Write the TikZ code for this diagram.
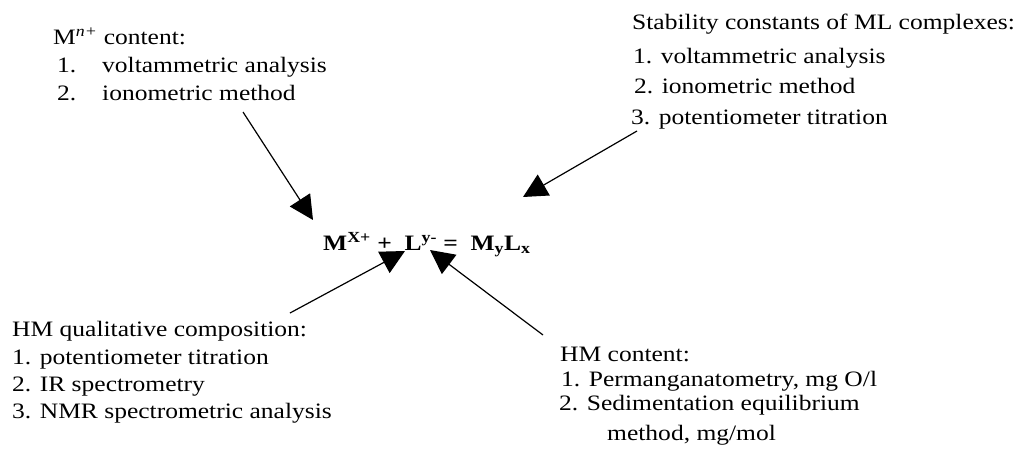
\documentclass[tikz,border=0pt]{standalone}
\usepackage{fontspec}
\setmainfont[FakeStretch=1.16]{Liberation Serif}
\usetikzlibrary{arrows.meta,positioning}

\begin{document}
\begin{tikzpicture}[x=1pt, y=-1pt,
    txt/.style={anchor=base west, inner sep=0pt, font=\fontsize{22}{26}\selectfont},
    arr/.style={line width=1.2pt, -{Triangle[length=24pt,width=24pt]}}]
    \useasboundingbox (0,0) rectangle (1019,448);

    % reaction
    \node[txt] (eq) at (323,250) {\bfseries M\textsuperscript{X+} + \ L\textsuperscript{y-} = \ M\textsubscript{y}L\textsubscript{x}};

    % metal content
    \node[txt] (tl0) at (53,44) {M\textsuperscript{\itshape n+} content:};
    \node[txt] (tl1) at (57,72) {\makebox[45pt][l]{1.}voltammetric analysis};
    \node[txt] (tl2) at (57,100) {\makebox[45pt][l]{2.}ionometric method};

    % stability constants
    \node[txt] (tr0) at (632,29) {Stability constants of ML complexes:};
    \node[txt] (tr1) at (633,63) {1. voltammetric analysis};
    \node[txt] (tr2) at (634,93) {2. ionometric method};
    \node[txt] (tr3) at (631,124) {3. potentiometer titration};

    % HM composition
    \node[txt] (bl0) at (12,336) {HM qualitative composition:};
    \node[txt] (bl1) at (12,364) {1. potentiometer titration};
    \node[txt] (bl2) at (12,391) {2. IR spectrometry};
    \node[txt] (bl3) at (12,418) {3. NMR spectrometric analysis};

    % HM content
    \node[txt] (br0) at (560,361) {HM content:};
    \node[txt] (br1) at (561,386) {1. Permanganatometry, mg O/l};
    \node[txt] (br2) at (559,410) {2. Sedimentation equilibrium};
    \node[txt] (br3) at (607,440) {method, mg/mol};

    % arrow ends
    \coordinate (sA) at (243,112);  \coordinate (tA) at (313,220);
    \coordinate (sB) at (637,131);  \coordinate (tB) at (523,197);
    \coordinate (sC) at (290,313);  \coordinate (tC) at (405,251);
    \coordinate (sD) at (543,335);  \coordinate (tD) at (430,250);

    \draw[arr] (sA) -- (tA);
    \draw[arr] (sB) -- (tB);
    \draw[arr] (sC) -- (tC);
    \draw[arr] (sD) -- (tD);
\end{tikzpicture}
\end{document}
